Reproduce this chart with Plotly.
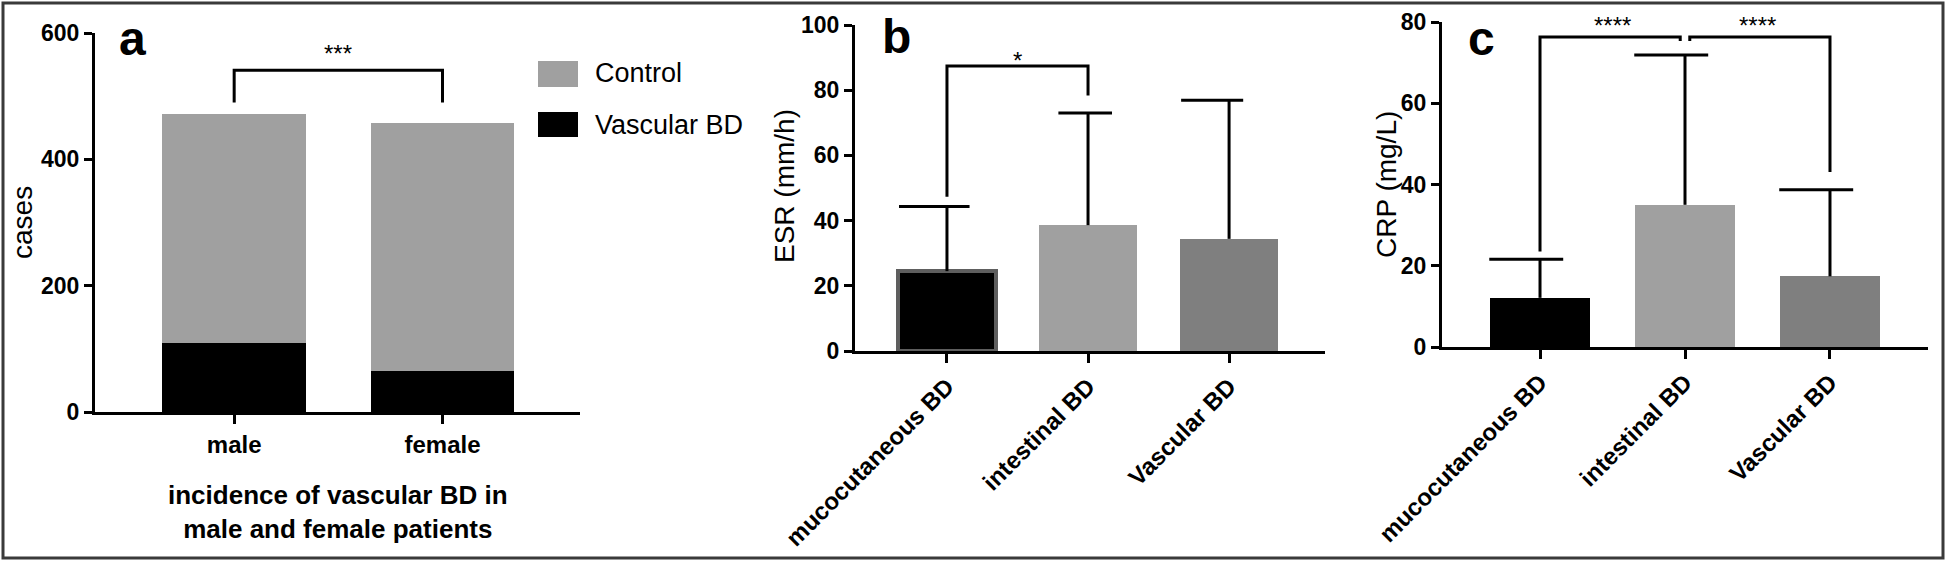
import plotly.graph_objects as go

W, H = 1946, 562

# ---------------- data ----------------
# Panel a
sex_categories = ["male", "female"]
series_names_a = ["Control", "Vascular BD"]
vascular_bd_cases = [109, 65]
control_cases = [362, 392]
cases_ticks = [0, 200, 400, 600]

# Panels b and c
bd_types = ["mucocutaneous BD", "intestinal BD", "Vascular BD"]
esr_mean = [24.5, 38.6, 34.4]
esr_sd = [19.8, 34.4, 42.5]
esr_ticks = [0, 20, 40, 60, 80, 100]
crp_mean = [12.1, 35.0, 17.4]
crp_sd = [9.5, 36.9, 21.3]
crp_ticks = [0, 20, 40, 60, 80]

# significance brackets: (left cat, right cat, top, left leg bottom, right leg bottom, label)
sig_a = [(0, 1, 541, 490, 490, "***")]
sig_b = [(0, 1, 87.4, 47.3, 78.4, "*")]
sig_c = [(0, 1, 76.3, 23.5, 75.3, "****"), (1, 2, 76.3, 75.3, 43.1, "****")]
sig_label_level = {"a": 575, "b": 90.6, "c": 80.3}

# ---------------- style ----------------
FONT = "Liberation Sans, Arial, sans-serif"
C_LIGHT = "#a0a0a0"
C_MID = "#7f7f7f"
C_BLACK = "#000000"
bar_colors_bc = [C_BLACK, C_LIGHT, C_MID]
BAR_W = 0.69
LW = 3


def px_x(p):
    return p / W


def px_y(p):
    return (H - p) / H


fig = go.Figure()

# ---- panel a: stacked bars
xa = list(range(len(sex_categories)))
fig.add_trace(go.Bar(x=xa, y=vascular_bd_cases, name=series_names_a[1], width=BAR_W,
                     marker=dict(color=C_BLACK, line=dict(width=0)),
                     xaxis="x", yaxis="y", showlegend=False))
fig.add_trace(go.Bar(x=xa, y=control_cases, name=series_names_a[0], width=BAR_W,
                     marker=dict(color=C_LIGHT, line=dict(width=0)),
                     xaxis="x", yaxis="y", showlegend=False))


# ---- panels b, c
def add_bar_panel(means, sds, xref, yref, cap_left, cap_right, outline):
    xs = list(range(len(means)))
    fig.add_trace(go.Bar(x=xs, y=means, width=BAR_W,
                         marker=dict(color=bar_colors_bc,
                                     line=dict(color="#5e5e5e", width=outline)),
                         xaxis=xref, yaxis=yref, showlegend=False))
    ex, ey = [], []
    for i, (m, s) in enumerate(zip(means, sds)):
        ex += [i, i, None, i - cap_left[i], i + cap_right[i], None]
        ey += [m, m + s, None, m + s, m + s, None]
    fig.add_trace(go.Scatter(x=ex, y=ey, mode="lines",
                             line=dict(color="black", width=LW),
                             xaxis=xref, yaxis=yref, showlegend=False, hoverinfo="skip"))


add_bar_panel(esr_mean, esr_sd, "x2", "y2", [0.34, 0.21, 0.34], [0.16, 0.17, 0.10], [4, 0, 0])
add_bar_panel(crp_mean, crp_sd, "x3", "y3", [0.35, 0.35, 0.35], [0.16, 0.16, 0.16], [0, 0, 0])

# ---- significance brackets
annotations = []


def add_brackets(sigs, xref, yref, label_level, ymax, gap=0.0):
    n = len(sigs)
    for k, (a, b, top, lb, rb, lab) in enumerate(sigs):
        x0 = a + (gap if (n > 1 and k > 0) else 0)
        x1 = b - (gap if (n > 1 and k < n - 1) else 0)
        fig.add_trace(go.Scatter(x=[x0, x0, x1, x1], y=[lb, top, top, rb], mode="lines",
                                 line=dict(color="black", width=LW),
                                 xaxis=xref, yaxis=yref, showlegend=False, hoverinfo="skip",
                                 cliponaxis=False))
        annotations.append(dict(x=(a + b) / 2, y=label_level / ymax, xref=xref,
                                yref=yref + " domain", xanchor="center", yanchor="middle",
                                text=lab, showarrow=False, yshift=-5,
                                font=dict(family=FONT, size=24, color="black")))


add_brackets(sig_a, "x", "y", sig_label_level["a"], 600)
add_brackets(sig_b, "x2", "y2", sig_label_level["b"], 100)
add_brackets(sig_c, "x3", "y3", sig_label_level["c"], 80, gap=0.033)

# ---------------- axes ----------------
tickfont = dict(family=FONT, size=23, color="black", weight="bold")


def yax(domain_px, rng, ticks, anchor):
    return dict(domain=[px_y(domain_px[1]), px_y(domain_px[0])], range=rng,
                tickvals=ticks, showline=True, linecolor="black", linewidth=LW,
                ticks="outside", ticklen=8, tickwidth=LW, tickcolor="black",
                showgrid=False, zeroline=False, tickfont=tickfont, fixedrange=True,
                automargin=False, anchor=anchor)


def xax(domain_px, rng, labels, angle, anchor):
    return dict(domain=[px_x(domain_px[0]), px_x(domain_px[1])], range=rng,
                tickvals=list(range(len(labels))), ticktext=labels, tickangle=angle,
                showline=True, linecolor="black", linewidth=LW,
                ticks="outside", ticklen=9, tickwidth=LW, tickcolor="black",
                showgrid=False, zeroline=False, anchor=anchor, automargin=False,
                tickfont=dict(family=FONT, size=24, color="black", weight="bold"),
                fixedrange=True)


layout = dict(
    template="none",
    width=W, height=H, margin=dict(l=0, r=0, t=0, b=0, pad=0, autoexpand=False),
    paper_bgcolor="white", plot_bgcolor="white", barmode="stack",
    bargap=0, showlegend=False, hovermode=False,
    xaxis=xax((95, 580), [-0.668, 1.66], sex_categories, 0, "y"),
    yaxis=yax((33, 412), [0, 600], cases_ticks, "x"),
    xaxis2=xax((855, 1325), [-0.652, 2.68], bd_types, -45, "y2"),
    yaxis2=yax((25, 351), [0, 100], esr_ticks, "x2"),
    xaxis3=xax((1442, 1928), [-0.676, 2.676], bd_types, -45, "y3"),
    yaxis3=yax((22, 347), [0, 80], crp_ticks, "x3"),
)


def paper_text(text, xp, yp, size, bold=False, angle=0, xanchor="center"):
    f = dict(family=FONT, size=size, color="black")
    if bold:
        f["weight"] = "bold"
    return dict(x=px_x(xp), y=px_y(yp), xref="paper", yref="paper", text=text,
                textangle=angle, xanchor=xanchor, yanchor="middle", showarrow=False, font=f)


# axis titles
annotations += [
    paper_text("cases", 22, 223, 28, angle=-90),
    paper_text("ESR (mm/h)", 784, 186, 28, angle=-90),
    paper_text("CRP (mg/L)", 1386, 185, 28, angle=-90),
    paper_text("incidence of vascular BD in<br>male and female patients", 338, 512, 26, bold=True),
]

# panel letters
for letter, xl, yc in (("a", 117, 38), ("b", 880, 36), ("c", 1466, 38)):
    annotations.append(paper_text(letter, xl, yc, 48, bold=True, xanchor="left"))

# legend for panel a (drawn manually to match large swatches)
shapes = []
legend_items = [(series_names_a[0], C_LIGHT, 61, 87, 73), (series_names_a[1], C_BLACK, 112, 137, 125)]
for name, col, y0, y1, yc in legend_items:
    shapes.append(dict(type="rect", xref="paper", yref="paper",
                       x0=px_x(538), x1=px_x(578), y0=px_y(y1), y1=px_y(y0),
                       fillcolor=col, line=dict(width=0)))
    annotations.append(paper_text(name, 593, yc, 27, xanchor="left"))

# outer frame
shapes.append(dict(type="rect", xref="paper", yref="paper", x0=px_x(3), x1=px_x(1943),
                   y0=px_y(558), y1=px_y(3), line=dict(color="#3a3a3a", width=3)))

layout["annotations"] = annotations
layout["shapes"] = shapes
fig.update_layout(**layout)

fig.write_html("out.html", config={"displayModeBar": False, "staticPlot": True},
               post_script="document.body.style.margin='0px';")
